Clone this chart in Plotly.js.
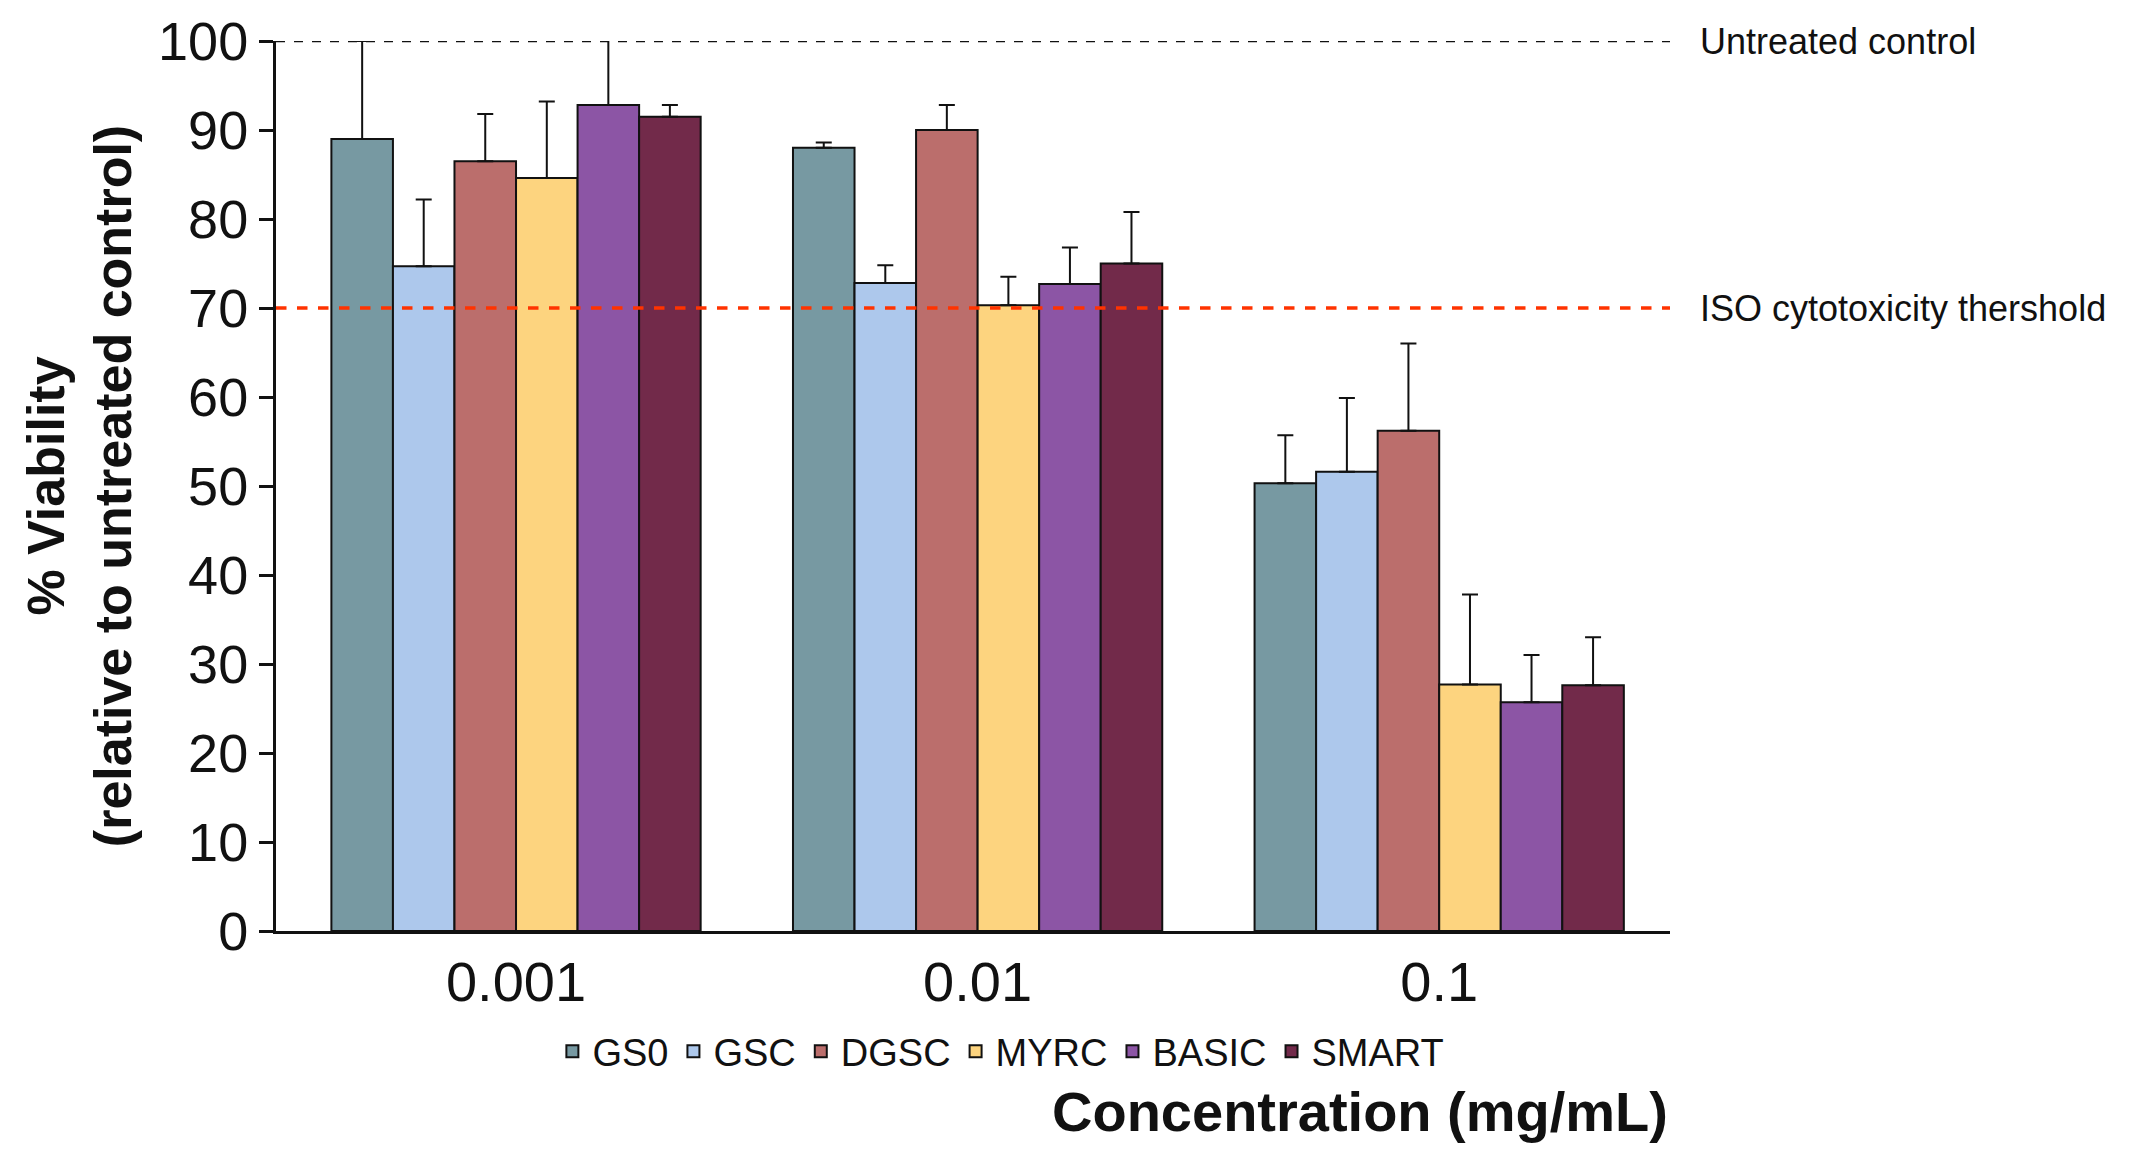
<!DOCTYPE html>
<html><head><meta charset="utf-8">
<script src="https://cdn.plot.ly/plotly-3.0.1.min.js"></script>
<style>body{margin:0;background:#fff}</style>
</head><body>
<div id="chart" style="width:2153px;height:1167px"></div>
<script>
const categories = ['0.001', '0.01', '0.1'];
const seriesNames = ['GS0', 'GSC', 'DGSC', 'MYRC', 'BASIC', 'SMART'];
const colors = ['#7799a2', '#adc8ec', '#bb6e6c', '#fdd47f', '#8c55a5', '#722a4a'];
const gs0 = [89, 88, 50.3];
const gsc = [74.7, 72.8, 51.6];
const dgsc = [86.5, 90, 56.2];
const myrc = [84.6, 70.3, 27.7];
const basic = [92.8, 72.7, 25.7];
const smart = [91.5, 75, 27.6];
const gs0Err = [11, 0.6, 5.4];
const gscErr = [7.5, 2, 8.3];
const dgscErr = [5.3, 2.8, 9.8];
const myrcErr = [8.6, 3.2, 10.1];
const basicErr = [7.4, 4.1, 5.3];
const smartErr = [1.3, 5.8, 5.4];

const values = [gs0, gsc, dgsc, myrc, basic, smart];
const errors = [gs0Err, gscErr, dgscErr, myrcErr, basicErr, smartErr];

const data = seriesNames.map((name, i) => ({
    type: 'bar', name: name, x: categories, y: values[i],
    marker: { color: colors[i], line: { color: '#111', width: 2 } },
    error_y: { type: 'data', symmetric: false, array: errors[i], arrayminus: [0, 0, 0],
               color: '#111', thickness: 2, width: 8 }
}));

const font = '"Liberation Sans Narrow", "Liberation Sans", Arial, sans-serif';
const layout = {
    barmode: 'group', bargap: 0.2, bargroupgap: 0,
    paper_bgcolor: '#fff', plot_bgcolor: '#fff',
    margin: { l: 276, r: 483, t: 41, b: 236 },
    font: { family: font, color: '#111' },
    showlegend: true,
    legend: { orientation: 'h', x: 0.52, xanchor: 'center', y: -0.1, yanchor: 'top',
              font: { size: 38, family: font }, itemwidth: 30, tracegroupgap: 0 },
    xaxis: { type: 'category', showline: true, linecolor: '#111', linewidth: 3, ticks: '',
             tickfont: { size: 56, family: font }, range: [-0.52, 2.5],
             title: { text: '' } },
    yaxis: { range: [0, 100], showline: true, linecolor: '#111', linewidth: 3,
             ticks: 'outside', ticklen: 14, tickwidth: 3, tickcolor: '#111', dtick: 10,
             showgrid: false, zeroline: false, tickfont: { size: 54, family: font },
             title: { text: '<b>% Viability<br>(relative to untreated control)</b>',
                      font: { size: 52, family: 'Liberation Sans, Arial, sans-serif' }, standoff: 10 } },
    shapes: [
        { type: 'line', xref: 'paper', yref: 'y', x0: 0, x1: 1, y0: 100, y1: 100,
          line: { color: '#111', width: 2.5, dash: 'dash' } },
        { type: 'line', xref: 'paper', yref: 'y', x0: 0, x1: 1, y0: 70, y1: 70,
          line: { color: '#ff3300', width: 3.5, dash: 'dash' } }
    ],
    annotations: [
        { xref: 'paper', yref: 'y', x: 1.02, y: 100, text: 'Untreated control', showarrow: false,
          xanchor: 'left', font: { size: 36, family: font } },
        { xref: 'paper', yref: 'y', x: 1.02, y: 70, text: 'ISO cytotoxicity thershold', showarrow: false,
          xanchor: 'left', font: { size: 36, family: font } },
        { xref: 'paper', yref: 'paper', x: 1, y: -0.165, yanchor: 'top', xanchor: 'right',
          text: '<b>Concentration (mg/mL)</b>', showarrow: false,
          font: { size: 56, family: font } }
    ]
};

Plotly.newPlot('chart', data, layout, { displayModeBar: false });
</script>
</body></html>
